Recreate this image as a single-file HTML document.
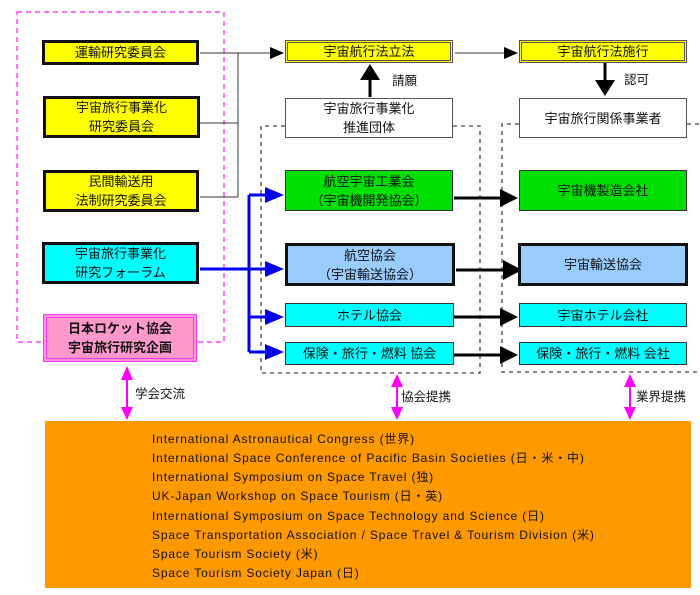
<!DOCTYPE html>
<html><head><meta charset="utf-8"><style>
body{margin:0;width:700px;height:595px;background:#fff;position:relative;overflow:hidden;font-family:"Liberation Sans","Noto Sans CJK JP",sans-serif;}
.b{position:absolute;box-sizing:border-box;display:flex;align-items:center;justify-content:center;text-align:center;font-size:13px;line-height:19px;color:#111;}
.y{background:#ffff00;border:3px solid #111;}
.yd{background:#ffff00;border:3px double #555;}
.w{background:#fff;border:1.5px solid #555;}
.g{background:#00e000;border:1.5px solid #333;}
.lb{background:#99ccff;border:3px solid #111;}
.c{background:#00ffff;border:1.5px solid #333;}
.c3{background:#00ffff;border:3px solid #111;}
.p{background:#ff99cc;border:4px double #ff33ff;font-weight:bold;}
.l{position:absolute;font-size:12.5px;color:#111;}
svg{position:absolute;left:0;top:0;}
.or{position:absolute;left:45px;top:421px;width:646px;height:167px;background:#ff9900;}
.or div{position:absolute;left:107px;font-size:12px;letter-spacing:0.85px;color:#111;white-space:nowrap;}
</style></head><body>
<svg width="700" height="595">
<rect x="17" y="12" width="207" height="330" fill="none" stroke="#ff44ff" stroke-width="1.5" stroke-dasharray="5,4"/>
<path d="M285,126H261V373H480V126H453" fill="none" stroke="#444" stroke-width="1.3" stroke-dasharray="4,4"/>
<path d="M519,124H502V372H700M687,124H700" fill="none" stroke="#444" stroke-width="1.3" stroke-dasharray="4,4"/>
<path d="M200,53H238M200,123H238M200,197H238M238,53V197M238,53H270" stroke="#333" stroke-width="1" fill="none"/>
<path d="M270,47L284,53L270,59z" fill="#000"/>
<path d="M455,53H505" stroke="#333" stroke-width="1"/>
<path d="M504,47L518,53L504,59z" fill="#000"/>
<path d="M370,97V78" stroke="#000" stroke-width="3"/><path d="M360,80L370,64L380,80z" fill="#000"/>
<path d="M605,63V82" stroke="#000" stroke-width="3"/><path d="M595,80L605,96L615,80z" fill="#000"/>
<path d="M200,269H268M249,195V352M249,195H268M249,317H268M249,352H268" stroke="#0000ee" stroke-width="3" fill="none"/>
<g fill="#0000ee"><path d="M265,187L284,195L265,203z"/><path d="M265,261L284,269L265,277z"/><path d="M265,309L284,317L265,325z"/><path d="M265,344L284,352L265,360z"/></g>
<path d="M454,198H504M456,270H508M454,317H504M454,355H504" stroke="#000" stroke-width="3"/>
<g fill="#000"><path d="M500,189L518,198L500,207z"/><path d="M503,260L522,270L503,280z"/><path d="M500,308L518,317L500,326z"/><path d="M500,346L518,355L500,364z"/></g>
<g stroke="#ff00ff" stroke-width="2"><path d="M127,375V413M397,380V413M630,380V413"/></g>
<g fill="#ff00ff"><path d="M121,380L127,366L133,380z"/><path d="M121,407L127,420L133,407z"/>
<path d="M391,387L397,374L403,387z"/><path d="M391,407L397,420L403,407z"/>
<path d="M624,387L630,374L636,387z"/><path d="M624,407L630,420L636,407z"/></g>
</svg>
<div class="b y" style="left:42px;top:40px;width:157px;height:25px">運輸研究委員会</div>
<div class="b y" style="left:43px;top:96px;width:157px;height:42px">宇宙旅行事業化<br>研究委員会</div>
<div class="b y" style="left:43px;top:170px;width:156px;height:42px">民間輸送用<br>法制研究委員会</div>
<div class="b c3" style="left:42px;top:242px;width:157px;height:42px">宇宙旅行事業化<br>研究フォーラム</div>
<div class="b p" style="left:43px;top:314px;width:154px;height:48px">日本ロケット協会<br>宇宙旅行研究企画</div>
<div class="b yd" style="left:285px;top:40px;width:168px;height:23px">宇宙航行法立法</div>
<div class="b w" style="left:285px;top:98px;width:168px;height:40px">宇宙旅行事業化<br>推進団体</div>
<div class="b g" style="left:285px;top:170px;width:168px;height:41px">航空宇宙工業会<br>（宇宙機開発協会）</div>
<div class="b lb" style="left:285px;top:243px;width:170px;height:43px">航空協会<br>（宇宙輸送協会）</div>
<div class="b c" style="left:285px;top:303px;width:169px;height:24px">ホテル協会</div>
<div class="b c" style="left:285px;top:342px;width:169px;height:23px">保険・旅行・燃料 協会</div>
<div class="b yd" style="left:519px;top:40px;width:168px;height:23px">宇宙航行法施行</div>
<div class="b w" style="left:519px;top:98px;width:168px;height:40px">宇宙旅行関係事業者</div>
<div class="b g" style="left:519px;top:170px;width:168px;height:41px">宇宙機製造会社</div>
<div class="b lb" style="left:518px;top:243px;width:170px;height:43px">宇宙輸送協会</div>
<div class="b c" style="left:519px;top:303px;width:168px;height:24px">宇宙ホテル会社</div>
<div class="b c" style="left:519px;top:342px;width:168px;height:23px">保険・旅行・燃料 会社</div>
<div class="l" style="left:392px;top:70px">請願</div>
<div class="l" style="left:624px;top:69px">認可</div>
<div class="l" style="left:135px;top:383px">学会交流</div>
<div class="l" style="left:401px;top:386px">協会提携</div>
<div class="l" style="left:636px;top:386px">業界提携</div>
<div class="or">
<div style="top:9px">International Astronautical Congress (世界)</div>
<div style="top:28px">International Space Conference of Pacific Basin Societies (日・米・中)</div>
<div style="top:47px">International Symposium on Space Travel (独)</div>
<div style="top:66px">UK-Japan Workshop on Space Tourism (日・英)</div>
<div style="top:86px">International Symposium on Space Technology and Science (日)</div>
<div style="top:105px">Space Transportation Association / Space Travel &amp; Tourism Division (米)</div>
<div style="top:124px">Space Tourism Society (米)</div>
<div style="top:143px">Space Tourism Society Japan (日)</div>
</div>
</body></html>
